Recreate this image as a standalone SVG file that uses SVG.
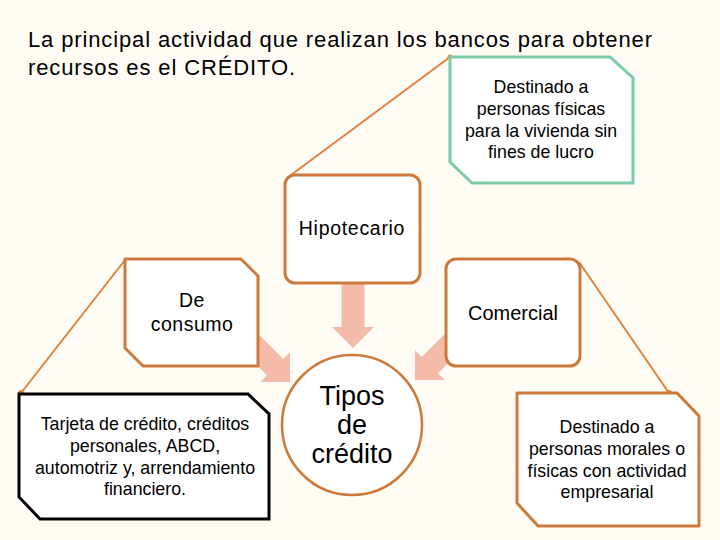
<svg xmlns="http://www.w3.org/2000/svg" width="720" height="540" viewBox="0 0 720 540">
<defs>
<style>
.t{font-family:"Liberation Sans",Arial,sans-serif;fill:#000;text-anchor:middle}
.s{font-size:17.8px}
.box{fill:#fff;stroke:#CC7A3C;stroke-width:3;stroke-linejoin:round}
.conn{stroke:#E0823C;stroke-width:2;fill:none}
.dot{fill:#E0823C}
.arr{fill:#F4BBA8}
</style>
<polygon id="arrowShape" points="-11.5,-65 11.5,-65 11.5,-21 21,-21 0,0 -21,-21 -11.5,-21"/>
</defs>
<rect width="720" height="540" fill="#FFFCF6"/>
<g id="title">
<text class="t" x="28" y="47" font-size="22" textLength="624" lengthAdjust="spacing" style="text-anchor:start">La principal actividad que realizan los bancos para obtener</text>
<text class="t" x="28" y="75" font-size="22" textLength="267" lengthAdjust="spacing" style="text-anchor:start">recursos es el CRÉDITO.</text>
</g>
<g id="connectors">
<use href="#arrowShape" class="arr" transform="translate(353,348)"/>
<use href="#arrowShape" class="arr" transform="translate(290,382) rotate(-45)"/>
<use href="#arrowShape" class="arr" transform="translate(415,380) rotate(45)"/>
<line class="conn" x1="287" y1="178" x2="450" y2="57"/>
<circle class="dot" cx="450" cy="57" r="2.5"/>
<line class="conn" x1="579" y1="262" x2="669" y2="393"/>
<circle class="dot" cx="669" cy="393" r="3"/>
<line class="conn" x1="125" y1="260" x2="21" y2="393"/>
<circle class="dot" cx="21" cy="393" r="3"/>
</g>
<g id="node-fisicas">
<polygon points="450,57 610,57 633,78 633,183 472,183 450,162" fill="#fff" stroke="#7ACBA6" stroke-width="3"/>
<text class="t s"><tspan x="541" y="93">Destinado a</tspan><tspan x="541" y="115">personas físicas</tspan><tspan x="541" y="137">para la vivienda sin</tspan><tspan x="541" y="158">fines de lucro</tspan></text>
</g>
<g id="node-hipotecario">
<rect class="box" x="285" y="175" width="135" height="108" rx="10"/>
<text class="t" x="352" y="235" font-size="19.5" letter-spacing="0.7">Hipotecario</text>
</g>
<g id="node-consumo">
<polygon class="box" points="125,259 241,259 258,276 258,366 143,366 125,348"/>
<text class="t" font-size="19.5" letter-spacing="0.5"><tspan x="192" y="307">De</tspan><tspan x="192" y="331">consumo</tspan></text>
</g>
<g id="node-comercial">
<rect class="box" x="446" y="259" width="134" height="107" rx="10"/>
<text class="t" x="513" y="320" font-size="20">Comercial</text>
</g>
<g id="node-tipos">
<circle cx="352" cy="425" r="70" fill="#fff" stroke="#CC7A3C" stroke-width="2.5"/>
<text class="t" font-size="27"><tspan x="352" y="405">Tipos</tspan><tspan x="352" y="434">de</tspan><tspan x="352" y="463">crédito</tspan></text>
</g>
<g id="node-tarjeta">
<polygon points="19,394 248,394 269,414 269,519 40,519 19,497" fill="#fff" stroke="#000" stroke-width="3"/>
<text class="t s"><tspan x="145" y="430">Tarjeta de crédito, créditos</tspan><tspan x="145" y="452">personales, ABCD,</tspan><tspan x="145" y="474">automotriz y, arrendamiento</tspan><tspan x="145" y="495">financiero.</tspan></text>
</g>
<g id="node-morales">
<polygon class="box" points="517,393 677,393 699,416 699,526 538,526 517,503"/>
<text class="t s"><tspan x="607" y="433">Destinado a</tspan><tspan x="607" y="455">personas morales o</tspan><tspan x="607" y="477">físicas con actividad</tspan><tspan x="607" y="498">empresarial</tspan></text>
</g>
</svg>
